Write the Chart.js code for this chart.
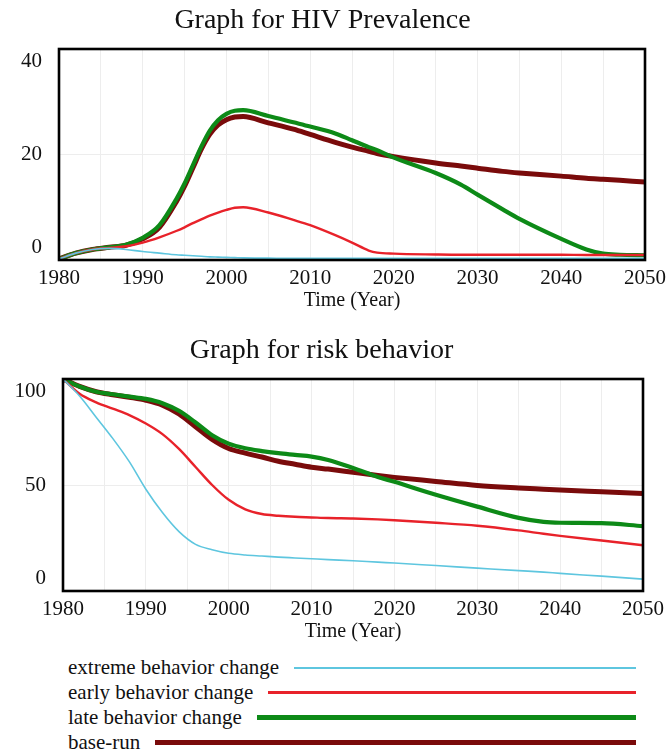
<!DOCTYPE html>
<html>
<head>
<meta charset="utf-8">
<script src="https://cdn.jsdelivr.net/npm/chart.js@4.4.0/dist/chart.umd.min.js"></script>
<style>
	html, body {
		margin: 0;
		padding: 0;
		background: #fff;
		width: 669px;
		height: 751px;
		overflow: hidden;
	}
	canvas {
		position: absolute;
		left: 0;
	}
	#graficoHiv { top: 0; }
	#graficoRisco { top: 330px; }
	.legenda {
		position: absolute;
		left: 68px;
		top: 655px;
		width: 568px;
		font-family: "Liberation Serif", "Times New Roman", Times, "DejaVu Serif", serif;
		font-size: 21px;
		color: #111;
	}
	.item {
		display: flex;
		align-items: center;
		height: 25px;
		white-space: nowrap;
	}
	.traco {
		flex: 1;
		margin-left: 15px;
	}
</style>
</head>
<body>
<canvas id="graficoHiv" width="696" height="320"></canvas>
<canvas id="graficoRisco" width="696" height="321"></canvas>
<div class="legenda" id="legenda"></div>

<script>
// Nomes dos cenarios (mesma ordem nos dois graficos)
var cenarios = ["extreme behavior change", "early behavior change", "late behavior change", "base-run"];
var cores = ["#5ec6df", "#e8222a", "#0d8a17", "#7a0b0b"];
var larguras = [1.6, 2.4, 4.2, 5];
var largurasLegenda = [2, 3, 5, 5];

// HIV Prevalence
var anosHiv = [1980, 1982, 1984, 1986, 1988, 1990, 1992, 1994, 1995, 1996, 1997, 1998, 1999, 2000, 2001, 2002,
	2005, 2008, 2010, 2013, 2015, 2017, 2018, 2020, 2025, 2028, 2030, 2033, 2035, 2040, 2043, 2045, 2047, 2050];
var hivExtreme = [0.2, 1.3, 2.0, 2.2, 2.0, 1.6, 1.3, 1.0, 0.9, 0.8, 0.7, 0.6, 0.55, 0.5, 0.45, 0.4,
	0.35, 0.3, 0.3, 0.3, 0.3, 0.3, 0.3, 0.3, 0.3, 0.3, 0.3, 0.3, 0.3, 0.3, 0.3, 0.3, 0.3, 0.3];
var hivEarly = [0.2, 1.3, 2.0, 2.3, 2.6, 3.3, 4.3, 5.5, 6.2, 7.0, 7.7, 8.4, 9.0, 9.5, 9.9, 10.0,
	9.0, 7.6, 6.6, 4.7, 3.3, 1.8, 1.4, 1.2, 1.05, 1.0, 1.0, 1.0, 1.0, 1.0, 0.95, 0.95, 0.95, 0.95];
var hivLate = [0.2, 1.3, 2.0, 2.4, 2.9, 4.2, 6.6, 11.5, 14.5, 18.0, 21.5, 24.5, 26.5, 27.7, 28.3, 28.4,
	27.3, 26.1, 25.3, 24.0, 22.7, 21.4, 20.8, 19.4, 16.5, 14.3, 12.4, 9.6, 7.8, 4.0, 2.0, 1.2, 1.0, 0.9];
var hivBase = [0.2, 1.3, 2.0, 2.4, 2.8, 4.0, 6.2, 11.0, 14.0, 17.5, 21.0, 23.8, 25.6, 26.6, 27.1, 27.2,
	26.0, 24.8, 23.8, 22.3, 21.4, 20.6, 20.2, 19.6, 18.4, 17.8, 17.4, 16.8, 16.5, 15.9, 15.5, 15.3, 15.1, 14.8];

// risk behavior
var anosRisco = [1980, 1982, 1984, 1986, 1988, 1990, 1992, 1994, 1996, 1998, 2000, 2002, 2004, 2006, 2008,
	2010, 2012, 2015, 2018, 2020, 2025, 2030, 2035, 2038, 2040, 2045, 2050];
var riscoExtreme = [100, 92, 82, 72, 61, 48, 37, 28, 22, 19.5, 17.8, 17, 16.5, 16, 15.6,
	15.2, 14.8, 14.3, 13.6, 13.2, 12, 10.8, 9.6, 8.9, 8.3, 7.0, 5.6];
var riscoEarly = [100, 93, 89, 86, 83, 79, 74, 67, 58.5, 50, 43, 38.5, 36.3, 35.5, 35,
	34.7, 34.4, 34.2, 33.8, 33.4, 32.2, 30.8, 28.6, 27, 26, 23.8, 21.6];
var riscoLate = [100, 96.5, 94, 92.8, 91.7, 90.6, 88.6, 85, 79.5, 73.5, 69.5, 67.3, 66, 65, 64.2,
	63.4, 61.8, 58, 53.8, 51.5, 45.4, 39.8, 34.5, 32.6, 32.2, 32, 30.6];
var riscoBase = [100, 96.5, 94, 92.6, 91.4, 90, 87.7, 83.5, 77.5, 71.5, 67.2, 65, 63.2, 61.2, 59.8,
	58.4, 57.5, 56, 54.5, 53.6, 51.7, 49.8, 48.6, 48, 47.6, 46.8, 46];

var fonte = "'Liberation Serif', 'Times New Roman', Times, 'DejaVu Serif', serif";

// Desenha a moldura preta em volta da area do grafico
var moldura = {
	id: "moldura",
	afterDatasetsDraw: function (chart) {
		var a = chart.chartArea;
		var ctx = chart.ctx;
		ctx.save();
		ctx.strokeStyle = "#000";
		ctx.lineWidth = 2.6;
		ctx.strokeRect(a.left, a.top, a.right - a.left, a.bottom - a.top);
		ctx.restore();
	},
};

function criarGrafico(id, titulo, anos, series, yMax, yPasso, yRotulo, esquerda, direita) {
	var datasets = [];
	for (var i = 0; i < series.length; i++) {
		var pontos = [];
		for (var j = 0; j < anos.length; j++) {
			pontos.push({ x: anos[j], y: series[i][j] });
		}
		datasets.push({
			label: cenarios[i],
			data: pontos,
			borderColor: cores[i],
			borderWidth: larguras[i],
			pointRadius: 0,
			cubicInterpolationMode: "monotone",
			fill: false,
		});
	}

	return new Chart(document.getElementById(id), {
		type: "line",
		data: { datasets: datasets },
		plugins: [moldura],
		options: {
			responsive: false,
			animation: false,
			layout: { padding: { left: 0, right: 696 - direita, top: 0, bottom: 0 } },
			plugins: {
				legend: { display: false },
				tooltip: { enabled: false },
				title: {
					display: true,
					text: titulo,
					color: "#111",
					font: { family: fonte, size: 28, weight: "normal" },
					padding: { top: 4, bottom: 11.4 },
				},
			},
			scales: {
				x: {
					type: "linear",
					min: 1980,
					max: 2050,
					afterFit: function (scale) {
						scale.height = 60;
					},
					ticks: {
						stepSize: 5,
						autoSkip: false,
						maxRotation: 0,
						padding: 6,
						color: "#111",
						font: { family: fonte, size: 21 },
						callback: function (v) {
							return v % 10 === 0 ? String(v) : "";
						},
					},
					grid: { color: "#ededed", drawTicks: false },
					border: { display: false },
					title: {
						display: true,
						text: "Time (Year)",
						color: "#111",
						font: { family: fonte, size: 20 },
						padding: { top: 0, bottom: 7 },
					},
				},
				y: {
					min: 0,
					max: yMax,
					afterFit: function (scale) {
						scale.width = esquerda;
					},
					ticks: {
						stepSize: yPasso,
						padding: 17,
						color: "#111",
						font: { family: fonte, size: 21 },
						// rotulos das pontas ficam para dentro do grafico
						callback: function (v) {
							if (v === yMax) return ["", String(v)];
							if (v === 0) return ["0", ""];
							if (v % yRotulo === 0) return String(v);
							return "";
						},
					},
					grid: { color: "#ededed", drawTicks: false },
					border: { display: false },
				},
			},
		},
	});
}

criarGrafico("graficoHiv", "Graph for HIV Prevalence", anosHiv,
	[hivExtreme, hivEarly, hivLate, hivBase], 40, 10, 20, 59, 645);
criarGrafico("graficoRisco", "Graph for risk behavior", anosRisco,
	[riscoExtreme, riscoEarly, riscoLate, riscoBase], 100, 25, 50, 63, 643);

// Legenda embaixo: nome do cenario e o traco ate a direita
var legenda = document.getElementById("legenda");
for (var k = 0; k < cenarios.length; k++) {
	legenda.innerHTML += `
		<div class="item"><span>${cenarios[k]}</span>
		<div class="traco" style="height:${largurasLegenda[k]}px;background:${cores[k]}"></div></div>
	`;
}
</script>
</body>
</html>
